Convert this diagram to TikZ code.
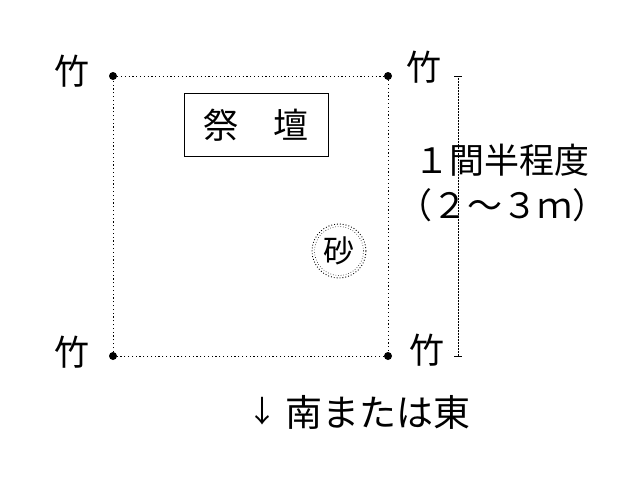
\documentclass[tikz,border=0pt]{standalone}
\usepackage{fontspec}
\newfontfamily\jp{Noto Sans CJK JP}
\begin{document}
\begin{tikzpicture}[x=1pt,y=-1pt,
  lbl/.style={font=\jp\fontsize{35}{37}\selectfont, inner sep=0pt},
  post/.style={circle, fill=black, inner sep=0pt, minimum size=8pt},
  fence/.style={line width=0.7pt, dash pattern=on 1.2pt off 2.6pt},
  dim/.style={line width=0.5pt, dash pattern=on 0.6pt off 0.9pt}]
\useasboundingbox (0,0) rectangle (640,480);
\node[post] (tl) at (113,76) {};
\node[post] (tr) at (388,76) {};
\node[post] (bl) at (113,356) {};
\node[post] (br) at (388,356) {};
\draw[fence] (tl) -- (tr) -- (br) -- (bl) -- (tl);
\node[lbl] (ltl) at (72,71) {竹};
\node[lbl] (ltr) at (424,67) {竹};
\node[lbl] (lbl1) at (72,352) {竹};
\node[lbl] (lbr) at (427,350) {竹};
\node[lbl, draw, line width=0.7pt, minimum width=144pt, minimum height=63pt] (altar) at (256,125) {祭　壇};
\node[lbl, font=\jp\fontsize{31}{33}\selectfont] (sand) at (339,251) {砂};
\draw[line width=0.9pt, dotted] (sand) circle (27pt);
\draw[line width=0.6pt, dotted] (sand) circle (24.5pt);
\coordinate (dt) at (458,76);
\coordinate (db) at (458,356);
\draw[dim] (dt) -- (db);
\draw[line width=0.6pt] ([xshift=-4pt]dt) -- ([xshift=4pt]dt);
\draw[line width=0.6pt] ([xshift=-4pt]db) -- ([xshift=4pt]db);
\node[lbl] (size1) at (502,160) {１間半程度};
\node[lbl] (size2) at (502,205) {（２～３ｍ）};
\node[lbl, font=\jp\fontsize{30}{32}\selectfont] (arr) at (262,411) {↓};
\node[lbl, font=\jp\fontsize{37}{39}\selectfont] (dir) at (378,412) {南または東};
\end{tikzpicture}
\end{document}
